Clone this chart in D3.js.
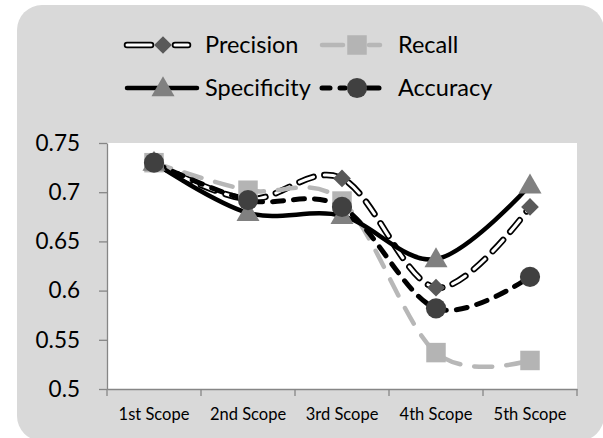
<!DOCTYPE html>
<html>
<head>
<meta charset="utf-8">
<script src="https://cdn.jsdelivr.net/npm/d3@7"></script>
<style>
  body { margin: 0; background: #ffffff; }
  svg text { font-family: Lato, "Noto Sans", sans-serif; fill: #000; }
</style>
</head>
<body>
<svg id="chart" width="603" height="438"></svg>
<script>
// Scope labels along the x axis
const categories = ["1st Scope", "2nd Scope", "3rd Scope", "4th Scope", "5th Scope"];

// Metric values per scope
const precision   = [0.730, 0.693, 0.714, 0.603, 0.685];
const recall      = [0.730, 0.702, 0.691, 0.537, 0.529];
const specificity = [0.730, 0.679, 0.676, 0.632, 0.707];
const accuracy    = [0.730, 0.692, 0.685, 0.582, 0.614];

// Value axis ticks
const yTicks = [0.5, 0.55, 0.6, 0.65, 0.7, 0.75];
const yTickLabels = ["0.5", "0.55", "0.6", "0.65", "0.7", "0.75"];

const seriesNames = ["Precision", "Recall", "Specificity", "Accuracy"];

const svg = d3.select("#chart");

// Chart background panel with rounded corners
svg.append("rect")
  .attr("x", 17).attr("y", 5)
  .attr("width", 587).attr("height", 436)
  .attr("rx", 25).attr("ry", 25)
  .attr("fill", "#d9d9d9");

const plot = { left: 107, right: 577, top: 143, bottom: 389 };

svg.append("rect")
  .attr("x", plot.left).attr("y", plot.top)
  .attr("width", plot.right - plot.left).attr("height", plot.bottom - plot.top)
  .attr("fill", "#ffffff");

const x = d3.scaleBand().domain(categories).range([plot.left, plot.right]);
const cx = c => x(c) + x.bandwidth() / 2;
const y = d3.scaleLinear().domain([0.5, 0.75]).range([plot.bottom, plot.top]);

const axisColor = "#868686";

// Y axis
const yAxis = svg.append("g")
  .attr("transform", `translate(${plot.left},0)`)
  .call(d3.axisLeft(y).tickValues(yTicks)
    .tickFormat((d, i) => yTickLabels[i])
    .tickSize(8).tickSizeOuter(0).tickPadding(19));
yAxis.select(".domain").attr("stroke", axisColor).attr("stroke-width", 1.3);
yAxis.selectAll(".tick line").attr("stroke", axisColor).attr("stroke-width", 1.3);
yAxis.selectAll(".tick text")
  .attr("font-size", 22.5).attr("font-family", "Lato, 'Noto Sans', sans-serif")
  .attr("fill", "#000");

// X axis: baseline and ticks on category boundaries
const xAxis = svg.append("g")
  .attr("transform", `translate(0,${plot.bottom})`)
  .call(d3.axisBottom(x).tickSize(0).tickSizeOuter(0).tickPadding(19));
xAxis.select(".domain").attr("stroke", axisColor).attr("stroke-width", 1.3);
xAxis.selectAll(".tick text")
  .attr("font-size", 16.5).attr("font-family", "Lato, 'Noto Sans', sans-serif")
  .attr("fill", "#000");
const boundaries = categories.map(c => x(c)).concat([x(categories[categories.length - 1]) + x.bandwidth()]);
xAxis.selectAll("line.bound").data(boundaries).enter().append("line")
  .attr("class", "bound")
  .attr("x1", d => d).attr("x2", d => d)
  .attr("y1", 0).attr("y2", 7)
  .attr("stroke", axisColor).attr("stroke-width", 1.3);

// Smoothed lines
const line = d3.line()
  .x((d, i) => cx(categories[i]))
  .y(d => y(d))
  .curve(d3.curveCatmullRom.alpha(0));

const lines = svg.append("g");

// Precision: white dashed line with black outline
lines.append("path").datum(precision)
  .attr("d", line).attr("fill", "none")
  .attr("stroke", "#000").attr("stroke-width", 6.5)
  .attr("stroke-dasharray", "15 11").attr("stroke-linecap", "round");
lines.append("path").datum(precision)
  .attr("d", line).attr("fill", "none")
  .attr("stroke", "#fff").attr("stroke-width", 3)
  .attr("stroke-dasharray", "15 11").attr("stroke-linecap", "round");

// Recall: light grey dashes
lines.append("path").datum(recall)
  .attr("d", line).attr("fill", "none")
  .attr("stroke", "#b7b7b7").attr("stroke-width", 4.5)
  .attr("stroke-dasharray", "18 14").attr("stroke-linecap", "round");

// Specificity: solid black
lines.append("path").datum(specificity)
  .attr("d", line).attr("fill", "none")
  .attr("stroke", "#000").attr("stroke-width", 4.5);

// Accuracy: black dashes
lines.append("path").datum(accuracy)
  .attr("d", line).attr("fill", "none")
  .attr("stroke", "#000").attr("stroke-width", 5)
  .attr("stroke-dasharray", "11 10").attr("stroke-linecap", "round");

// Marker symbols
const markers = {
  Precision:   { type: d3.symbolDiamond2, size: 200, fill: "#595959" },
  Recall:      { type: d3.symbolSquare, size: 380, fill: "#b4b4b4" },
  Specificity: { type: d3.symbolTriangle, size: 230, fill: "#808080" },
  Accuracy:    { type: d3.symbolCircle, size: 320, fill: "#404040" }
};
const seriesData = { Precision: precision, Recall: recall, Specificity: specificity, Accuracy: accuracy };

const markerGroup = svg.append("g");
seriesNames.forEach(name => {
  const m = markers[name];
  const sym = d3.symbol().type(m.type).size(m.size);
  markerGroup.selectAll(null).data(seriesData[name]).enter().append("path")
    .attr("d", sym)
    .attr("transform", (d, i) => `translate(${cx(categories[i])},${y(d) + (name === "Specificity" ? 1.5 : 0)})`)
    .attr("fill", m.fill);
});

// Legend
const legendItems = [
  { name: "Precision",   lx: 127, rx: 188, mx: 163, ty: 45, tx: 205 },
  { name: "Recall",      lx: 320, rx: 382, mx: 357, ty: 45, tx: 398 },
  { name: "Specificity", lx: 127, rx: 197, mx: 163, ty: 88, tx: 205 },
  { name: "Accuracy",    lx: 320, rx: 382, mx: 357, ty: 88, tx: 398 }
];
const legend = svg.append("g");
legendItems.forEach(it => {
  const g = legend.append("g");
  if (it.name === "Precision") {
    [[it.lx, it.mx - 12], [it.mx + 12, it.rx]].forEach(s => {
      g.append("line").attr("x1", s[0]).attr("x2", s[1]).attr("y1", it.ty).attr("y2", it.ty)
        .attr("stroke", "#000").attr("stroke-width", 6.5).attr("stroke-linecap", "round");
      g.append("line").attr("x1", s[0]).attr("x2", s[1]).attr("y1", it.ty).attr("y2", it.ty)
        .attr("stroke", "#fff").attr("stroke-width", 3).attr("stroke-linecap", "round");
    });
  } else if (it.name === "Recall") {
    [[it.lx + 2, it.mx - 14], [it.mx + 12, it.rx - 2]].forEach(s => {
      g.append("line").attr("x1", s[0]).attr("x2", s[1]).attr("y1", it.ty).attr("y2", it.ty)
        .attr("stroke", "#b7b7b7").attr("stroke-width", 4.5).attr("stroke-linecap", "round");
    });
  } else if (it.name === "Specificity") {
    g.append("line").attr("x1", it.lx).attr("x2", it.rx).attr("y1", it.ty).attr("y2", it.ty)
      .attr("stroke", "#000").attr("stroke-width", 4.5).attr("stroke-linecap", "round");
  } else {
    [[it.lx + 2, it.lx + 10], [it.lx + 20, it.mx - 12], [it.mx + 10, it.rx - 3]].forEach(s => {
      g.append("line").attr("x1", s[0]).attr("x2", s[1]).attr("y1", it.ty).attr("y2", it.ty)
        .attr("stroke", "#000").attr("stroke-width", 5).attr("stroke-linecap", "round");
    });
  }
  const m = markers[it.name];
  g.append("path")
    .attr("d", d3.symbol().type(m.type).size(m.size)())
    .attr("transform", `translate(${it.mx},${it.ty + (it.name === "Specificity" ? 1.5 : 0)})`)
    .attr("fill", m.fill);
  g.append("text")
    .attr("x", it.tx).attr("y", it.ty)
    .attr("dy", "0.35em")
    .attr("font-size", 23.5)
    .text(it.name);
});
</script>
</body>
</html>
